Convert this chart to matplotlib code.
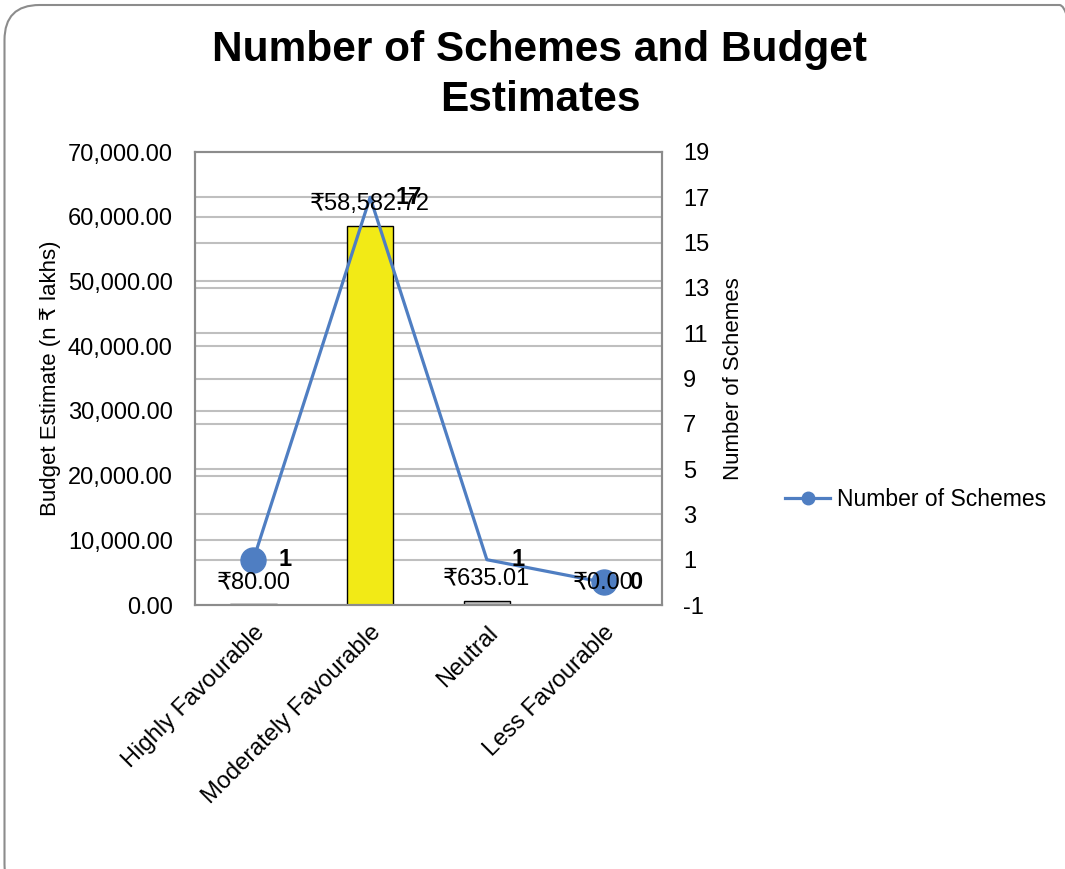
import matplotlib
matplotlib.use("Agg")
import matplotlib.pyplot as plt
from matplotlib.patches import FancyBboxPatch
from matplotlib.lines import Line2D
from matplotlib.transforms import blended_transform_factory

plt.rcParams['font.family'] = ['Liberation Sans', 'DejaVu Sans']

categories = ["Highly Favourable", "Moderately Favourable", "Neutral", "Less Favourable"]
budget = [80.00, 58582.72, 635.01, 0.00]
schemes = [1, 17, 1, 0]
bar_colors = ["#BFBFBF", "#F2EA16", "#BFBFBF", "#BFBFBF"]
left_ticks = [0, 10000, 20000, 30000, 40000, 50000, 60000, 70000]
right_ticks = [-1, 1, 3, 5, 7, 9, 11, 13, 15, 17, 19]

W, H = 1065, 869
fig = plt.figure(figsize=(W / 100, H / 100), dpi=100)
ax1 = fig.add_axes([195 / W, 1 - 605 / H, (662 - 195) / W, (605 - 152) / H])
ax2 = ax1.twinx()

x = list(range(len(categories)))
ax1.set_xlim(-0.5, len(categories) - 0.5)
ax1.set_ylim(left_ticks[0], left_ticks[-1])
ax2.set_ylim(right_ticks[0], right_ticks[-1])

grid_color = "#BFBFBF"
for t in left_ticks[1:-1]:
    ax1.axhline(t, color=grid_color, lw=1.5, zorder=0)
bt = blended_transform_factory(ax1.transAxes, ax2.transData)
for t in right_ticks[1:-1]:
    ax1.plot([0, 1], [t, t], transform=bt, color=grid_color, lw=1.5, zorder=0)

ax1.bar(x, budget, width=0.4, color=bar_colors, edgecolor="black", lw=1, zorder=2)

ax1.set_yticks(left_ticks)
ax1.set_yticklabels([f"{v:,.2f}" for v in left_ticks], fontsize=17)
ax1.set_xticks(x)
ax1.set_xticklabels(categories, rotation=45, ha="right", va="top",
                    rotation_mode="anchor", fontsize=17)
ax1.tick_params(axis="both", length=0, pad=16)
ax1.tick_params(axis="x", pad=12)
ax1.set_ylabel("Budget Estimate (n ₹ lakhs)", fontsize=16, labelpad=5)

line_color = "#4F7EC2"
ax2.plot(x, schemes, color=line_color, lw=2.3, marker="o", markersize=18,
         markevery=[0, len(schemes) - 1], zorder=3)
# bar value labels drawn on top of the line layer
for xi, v in zip(x, budget):
    ax2.annotate(f"₹{v:,.2f}", xy=(xi, v), xycoords=ax1.transData, xytext=(0, 8),
                 textcoords="offset points", ha="center", va="bottom", fontsize=17,
                 zorder=5)
for xi, n in zip(x, schemes):
    ax2.annotate(str(n), (xi, n), xytext=(18, 0), textcoords="offset points",
                 ha="left", va="center", fontsize=17, fontweight="bold", zorder=6)
ax2.set_yticks(right_ticks)
ax2.set_yticklabels([str(v) for v in right_ticks], fontsize=17)
ax2.tick_params(axis="y", length=0, pad=15)
ax2.set_ylabel("Number of Schemes", fontsize=16, labelpad=10)

for ax in (ax1, ax2):
    for s in ax.spines.values():
        s.set_color("#8C8C8C")
        s.set_linewidth(1.5)

fig.text(540 / W, 1 - 75 / H, "Number of Schemes and Budget\nEstimates", ha="center",
         va="center", fontsize=30.5, fontweight="bold", linespacing=1.3)

handle = Line2D([], [], color=line_color, lw=2.3, marker="o", markersize=9)
fig.legend([handle], ["Number of Schemes"], loc="center left",
           bbox_to_anchor=(780 / W, 1 - 500 / H), frameon=False, fontsize=16.5,
           handlelength=2.0, handletextpad=0.3, borderpad=0.2, borderaxespad=0)

border = FancyBboxPatch((0.045, -0.3), 10.9, 8.94, boxstyle="round,pad=0,rounding_size=0.35",
                        transform=fig.dpi_scale_trans, fill=False, edgecolor="#8C8C8C",
                        lw=1.5, clip_on=False)
fig.patches.append(border)

fig.savefig("out.png", dpi=100)
